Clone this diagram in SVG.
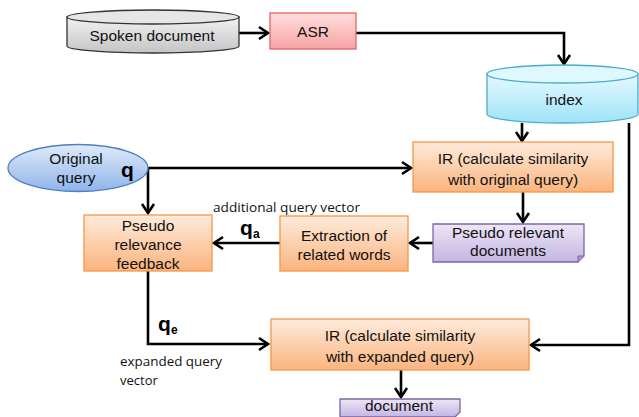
<svg xmlns="http://www.w3.org/2000/svg" width="639" height="417" viewBox="0 0 639 417">
<defs>
<linearGradient id="gGray" x1="0" y1="0" x2="0" y2="1"><stop offset="0" stop-color="#f2f2f2"/><stop offset="1" stop-color="#c4c4c4"/></linearGradient>
<linearGradient id="gPink" x1="0" y1="0" x2="0" y2="1"><stop offset="0" stop-color="#ffdede"/><stop offset="1" stop-color="#f7a4a4"/></linearGradient>
<linearGradient id="gCyan" x1="0" y1="0" x2="0" y2="1"><stop offset="0" stop-color="#e6f9ff"/><stop offset="1" stop-color="#9ee3f7"/></linearGradient>
<linearGradient id="gOrange" x1="0" y1="0" x2="0" y2="1"><stop offset="0" stop-color="#feebdc"/><stop offset="1" stop-color="#fbb47e"/></linearGradient>
<linearGradient id="gBlue" x1="0" y1="0" x2="0" y2="1"><stop offset="0" stop-color="#dfeafa"/><stop offset="1" stop-color="#8fb4ea"/></linearGradient>
<linearGradient id="gPurple" x1="0" y1="0" x2="0" y2="1"><stop offset="0" stop-color="#ece6f6"/><stop offset="1" stop-color="#c4b4e2"/></linearGradient>
<marker id="arr" viewBox="-12 -8 14 16" refX="0" refY="0" markerWidth="14" markerHeight="16" markerUnits="userSpaceOnUse" orient="auto">
<path d="M-9,-6 L0,0 L-9,6" fill="none" stroke="#000" stroke-width="2.6"/>
</marker>
<style>
.lbl{font-family:"Liberation Sans",Arial,sans-serif;font-size:15.5px;fill:#111;text-anchor:middle}
.small{font-family:"Open Sans","DejaVu Sans",sans-serif;font-size:13px;fill:#111}
.q{font-family:"Liberation Sans",Arial,sans-serif;font-weight:bold;font-size:21px;fill:#000}
.sub{font-family:"Liberation Sans",Arial,sans-serif;font-weight:bold;font-size:12px;fill:#000}
.orange{fill:url(#gOrange);stroke:#f79646;stroke-width:1.3}
.purple{fill:url(#gPurple);stroke:#8064a2;stroke-width:1.3}
.conn{fill:none;stroke:#000;stroke-width:2.6;marker-end:url(#arr)}
</style>
</defs>

<g id="connectors">
<path class="conn" d="M239,33 L268,33"/>
<path class="conn" d="M356,33 L564,33 L564,64"/>
<path class="conn" d="M522,123 L522,141"/>
<path class="conn" d="M148,168 L411,168"/>
<path class="conn" d="M148,168 L148,213"/>
<path class="conn" d="M523,192 L523,222"/>
<path class="conn" d="M433,243 L410,243"/>
<path class="conn" d="M280,243 L214,243"/>
<path class="conn" d="M148,271 L148,344 L268,344"/>
<path class="conn" d="M629,123 L629,345 L531,345"/>
<path class="conn" d="M401,370 L401,397"/>
</g>

<g id="spoken-document">
<path d="M67,17 L67,46 A86,7 0 0 0 239,46 L239,17 Z" fill="url(#gGray)" stroke="#333" stroke-width="1.3"/>
<ellipse cx="153" cy="17" rx="86" ry="7" fill="#e6e6e6" stroke="#333" stroke-width="1.3"/>
<text class="lbl" x="152" y="41">Spoken document</text>
</g>

<g id="asr">
<rect x="270" y="13" width="86" height="36" fill="url(#gPink)" stroke="#e06666" stroke-width="1.3"/>
<text class="lbl" x="313" y="37">ASR</text>
</g>

<g id="index">
<path d="M487,74 L487,114 A75.5,9 0 0 0 638,114 L638,74 Z" fill="url(#gCyan)" stroke="#4bacc6" stroke-width="1.3"/>
<ellipse cx="562.5" cy="74" rx="75.5" ry="9" fill="#dff7fe" stroke="#4bacc6" stroke-width="1.3"/>
<text class="lbl" x="564" y="105">index</text>
</g>

<g id="original-query">
<ellipse cx="78" cy="168" rx="70" ry="23.5" fill="url(#gBlue)" stroke="#4f81bd" stroke-width="1.3"/>
<text class="lbl" x="76" y="164">Original</text>
<text class="lbl" x="76" y="183">query</text>
<text class="q" x="121" y="177">q</text>
</g>

<g id="ir-original">
<rect x="413" y="142" width="200" height="50" class="orange"/>
<text class="lbl" x="513" y="164">IR (calculate similarity</text>
<text class="lbl" x="513" y="185">with original query)</text>
</g>

<g id="pseudo-feedback">
<rect x="84" y="215" width="128" height="56" class="orange"/>
<text class="lbl" x="148" y="231">Pseudo</text>
<text class="lbl" x="148" y="250">relevance</text>
<text class="lbl" x="148" y="269">feedback</text>
</g>

<g id="extraction">
<rect x="280" y="216" width="128" height="55" class="orange"/>
<text class="lbl" x="344" y="241">Extraction of</text>
<text class="lbl" x="344" y="260">related words</text>
</g>

<g id="pseudo-docs">
<path d="M433,224 L584,224 L584,256 L578,262 L433,262 Z" class="purple"/>
<path d="M584,256 L578,256 L578,262" fill="#a896cc" stroke="#8064a2" stroke-width="1"/>
<text class="lbl" x="508" y="238">Pseudo relevant</text>
<text class="lbl" x="508" y="256">documents</text>
</g>

<g id="labels">
<text class="small" x="213" y="212" textLength="147" lengthAdjust="spacingAndGlyphs">additional query vector</text>
<text class="q" x="240" y="235">q</text>
<text class="sub" x="253" y="238">a</text>
<text class="q" x="158" y="331">q</text>
<text class="sub" x="171" y="334">e</text>
<text class="small" x="120" y="366" textLength="102" lengthAdjust="spacingAndGlyphs">expanded query</text>
<text class="small" x="120" y="385">vector</text>
</g>

<g id="ir-expanded">
<rect x="271" y="319" width="258" height="51" class="orange"/>
<text class="lbl" x="400" y="341">IR (calculate similarity</text>
<text class="lbl" x="400" y="362">with expanded query)</text>
</g>

<g id="document">
<path d="M340,399 L460,399 L460,412 L455,417 L340,417 Z" class="purple"/>
<text class="lbl" x="399" y="411">document</text>
</g>
</svg>
